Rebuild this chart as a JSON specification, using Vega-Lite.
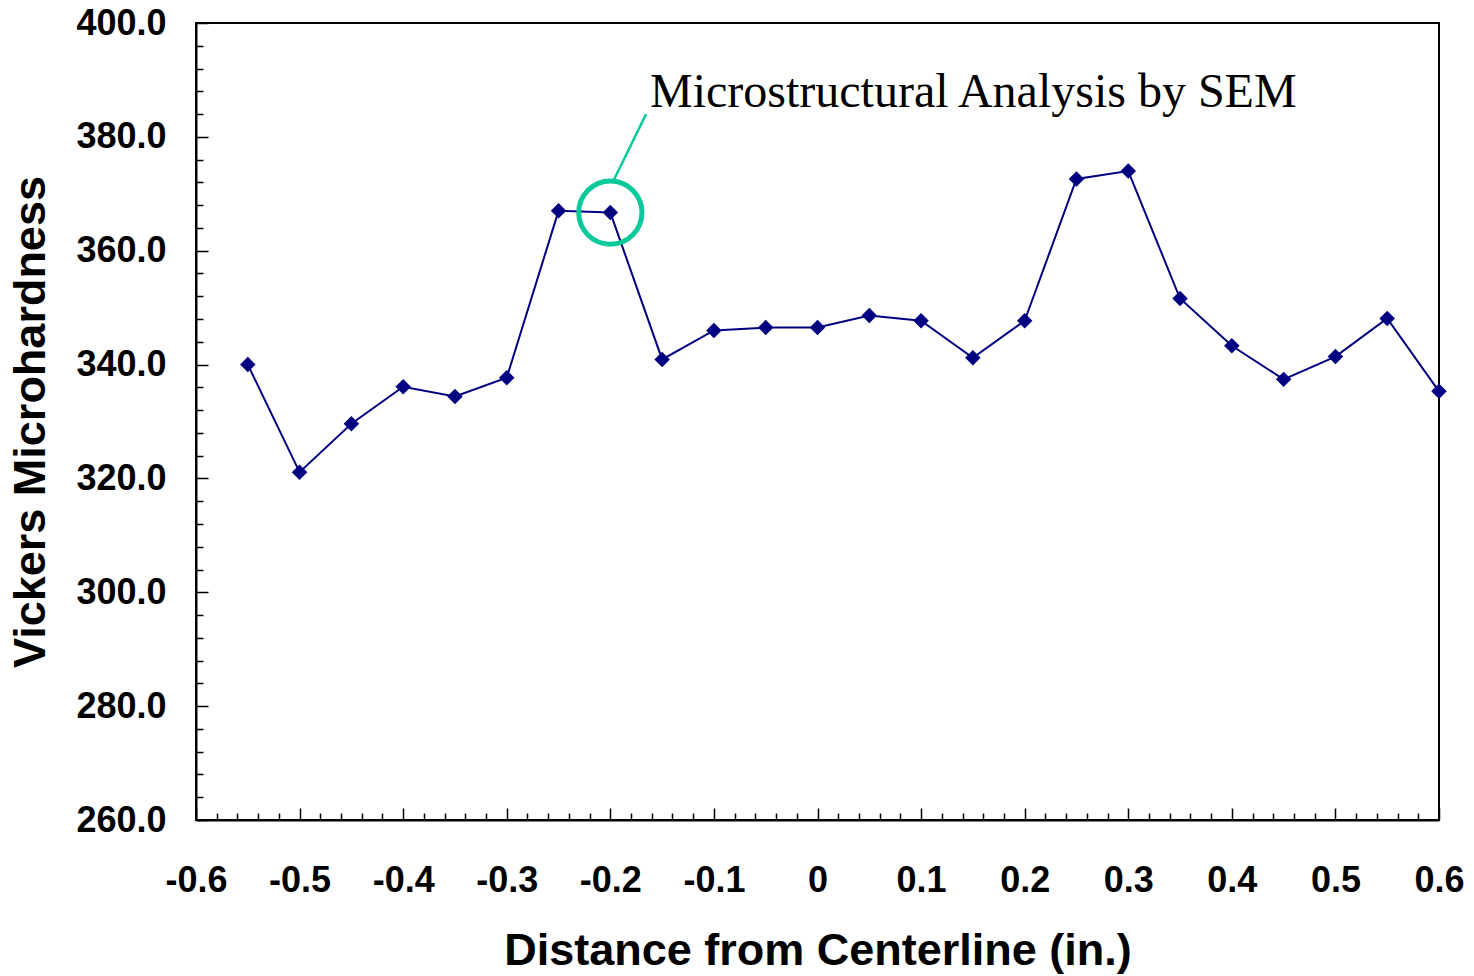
{
  "$schema": "https://vega.github.io/schema/vega-lite/v6.json",
  "width": 1243,
  "height": 797,
  "autosize": "none",
  "padding": {"left": 196, "top": 23, "right": 35, "bottom": 156},
  "background": "white",
  "config": {
    "view": {"stroke": "black", "strokeWidth": 2},
    "axis": {
      "grid": false,
      "domainColor": "black",
      "domainWidth": 2,
      "tickColor": "black",
      "tickWidth": 1.5,
      "labelColor": "black",
      "titleColor": "black",
      "labelFont": "Liberation Sans",
      "titleFont": "Liberation Sans",
      "labelFontWeight": "bold",
      "titleFontWeight": "bold",
      "labelFontSize": 36,
      "titleFontSize": 45
    }
  },
  "datasets": {
    "hardness": [
      {"distance": -0.55, "hv": 340.0},
      {"distance": -0.5, "hv": 321.1},
      {"distance": -0.45, "hv": 329.6},
      {"distance": -0.4, "hv": 336.1},
      {"distance": -0.35, "hv": 334.4},
      {"distance": -0.3, "hv": 337.7},
      {"distance": -0.25, "hv": 367.0},
      {"distance": -0.2, "hv": 366.7},
      {"distance": -0.15, "hv": 340.9},
      {"distance": -0.1, "hv": 346.0},
      {"distance": -0.05, "hv": 346.5},
      {"distance": 0.0, "hv": 346.5},
      {"distance": 0.05, "hv": 348.6},
      {"distance": 0.1, "hv": 347.7},
      {"distance": 0.15, "hv": 341.2},
      {"distance": 0.2, "hv": 347.7},
      {"distance": 0.25, "hv": 372.6},
      {"distance": 0.3, "hv": 374.0},
      {"distance": 0.35, "hv": 351.6},
      {"distance": 0.4, "hv": 343.3},
      {"distance": 0.45, "hv": 337.4},
      {"distance": 0.5, "hv": 341.4},
      {"distance": 0.55, "hv": 348.1},
      {"distance": 0.6, "hv": 335.3}
    ],
    "callout": [{"distance": -0.2, "hv": 366.7}],
    "leader": [{"distance": -0.197, "hv": 372.3, "distance2": -0.1655, "hv2": 384.0}],
    "note": [{"distance": -0.1617, "hv": 385.3, "label": "Microstructural Analysis by SEM"}]
  },
  "resolve": {"axis": {"x": "independent", "y": "independent"}},
  "layer": [
    {
      "data": {"name": "hardness"},
      "mark": {"type": "line", "color": "#000080", "strokeWidth": 2},
      "encoding": {
        "x": {
          "field": "distance",
          "type": "quantitative",
          "scale": {"domain": [-0.6, 0.6], "nice": false, "zero": false},
          "axis": {
            "orient": "bottom",
            "title": "Distance from Centerline (in.)",
            "values": [-0.6, -0.5, -0.4, -0.3, -0.2, -0.1, 0, 0.1, 0.2, 0.3, 0.4, 0.5, 0.6],
            "labelExpr": "datum.value == 0 ? '0' : (datum.value < 0 ? '-' + format(-datum.value, '.1f') : format(datum.value, '.1f'))",
            "tickSize": -12,
            "labelPadding": 55,
            "titlePadding": 30,
            "labelFlush": false
          }
        },
        "y": {
          "field": "hv",
          "type": "quantitative",
          "scale": {"domain": [260, 400], "nice": false, "zero": false},
          "axis": {
            "orient": "left",
            "title": "Vickers Microhardness",
            "values": [260, 280, 300, 320, 340, 360, 380, 400],
            "format": ".1f",
            "tickSize": -12,
            "labelPadding": 42,
            "titlePadding": 22,
            "labelFlush": false
          }
        }
      }
    },
    {
      "data": {"name": "hardness"},
      "mark": {"type": "point", "shape": "diamond", "filled": true, "opacity": 1, "color": "#000080", "size": 240},
      "encoding": {
        "x": {
          "field": "distance",
          "type": "quantitative",
          "axis": {
            "orient": "bottom",
            "title": null,
            "labels": false,
            "domain": false,
            "tickSize": -7,
            "values": [-0.58, -0.56, -0.54, -0.52, -0.48, -0.46, -0.44, -0.42, -0.38, -0.36, -0.34, -0.32, -0.28, -0.26, -0.24, -0.22, -0.18, -0.16, -0.14, -0.12, -0.08, -0.06, -0.04, -0.02, 0.02, 0.04, 0.06, 0.08, 0.12, 0.14, 0.16, 0.18, 0.22, 0.24, 0.26, 0.28, 0.32, 0.34, 0.36, 0.38, 0.42, 0.44, 0.46, 0.48, 0.52, 0.54, 0.56, 0.58]
          }
        },
        "y": {
          "field": "hv",
          "type": "quantitative",
          "axis": {
            "orient": "left",
            "title": null,
            "labels": false,
            "domain": false,
            "tickSize": -7,
            "values": [264, 268, 272, 276, 284, 288, 292, 296, 304, 308, 312, 316, 324, 328, 332, 336, 344, 348, 352, 356, 364, 368, 372, 376, 384, 388, 392, 396]
          }
        }
      }
    },
    {
      "data": {"name": "callout"},
      "mark": {"type": "point", "shape": "circle", "filled": false, "opacity": 1, "color": "#0cc99b", "strokeWidth": 5, "size": 4000},
      "encoding": {
        "x": {"field": "distance", "type": "quantitative", "axis": null},
        "y": {"field": "hv", "type": "quantitative", "axis": null}
      }
    },
    {
      "data": {"name": "leader"},
      "mark": {"type": "rule", "color": "#0cc99b", "strokeWidth": 2.5},
      "encoding": {
        "x": {"field": "distance", "type": "quantitative", "axis": null},
        "y": {"field": "hv", "type": "quantitative", "axis": null},
        "x2": {"field": "distance2"},
        "y2": {"field": "hv2"}
      }
    },
    {
      "data": {"name": "note"},
      "mark": {"type": "text", "font": "Liberation Serif", "fontSize": 48, "color": "black", "align": "left", "baseline": "alphabetic"},
      "encoding": {
        "x": {"field": "distance", "type": "quantitative", "axis": null},
        "y": {"field": "hv", "type": "quantitative", "axis": null},
        "text": {"field": "label"}
      }
    }
  ]
}
